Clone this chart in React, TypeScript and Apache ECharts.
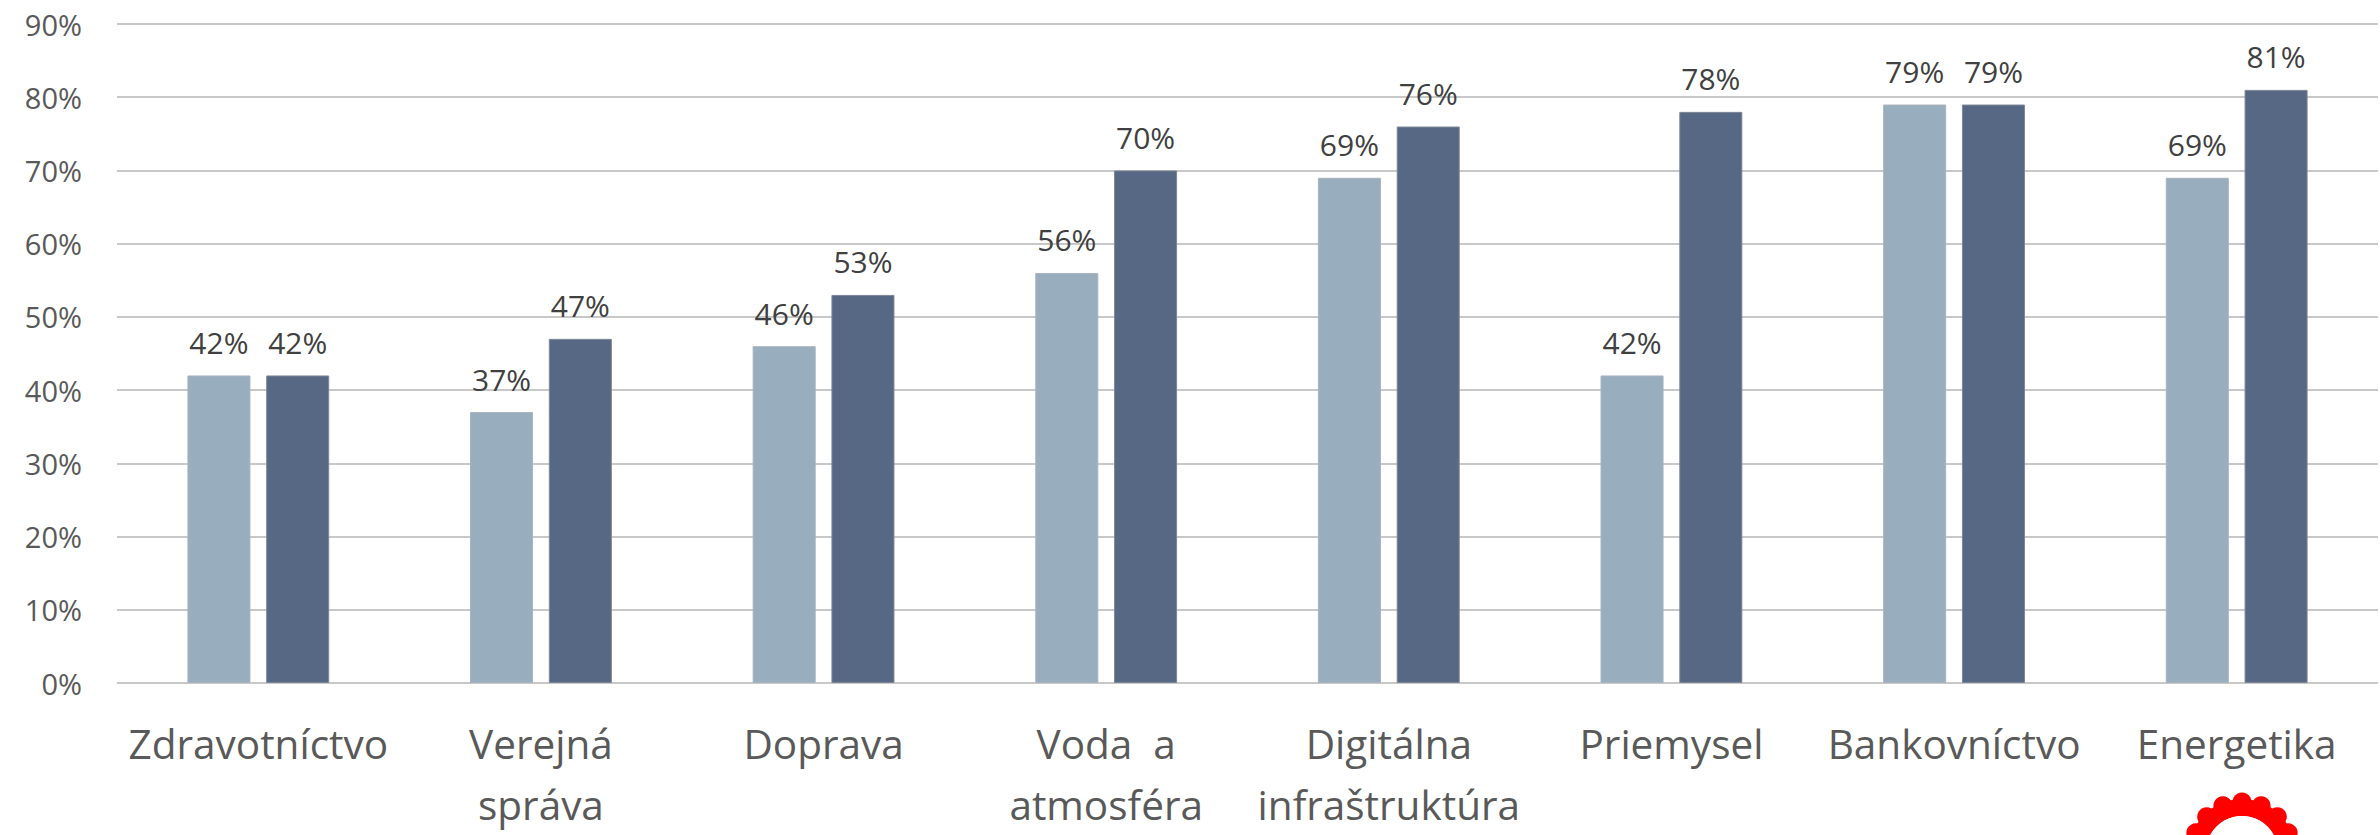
import React, { useEffect, useRef } from "react";
import * as echarts from "echarts";

const categories = [
  "Zdravotníctvo",
  "Verejná\nspráva",
  "Doprava",
  "Voda  a\natmosféra",
  "Digitálna\ninfraštruktúra",
  "Priemysel",
  "Bankovníctvo",
  "Energetika",
];
const seriesA = [42, 37, 46, 56, 69, 42, 79, 69];
const seriesB = [42, 47, 53, 70, 76, 78, 79, 81];
const yTicks = { min: 0, max: 90, interval: 10 };

const FONT = "'Open Sans', Lato, sans-serif";

function logoGraphic() {
  const cx = 2242;
  const cy = 852;
  const children: any[] = [];
  const n = 16;
  for (let i = 0; i < n; i++) {
    const a = (i / n) * Math.PI * 2;
    children.push({
      type: "circle",
      shape: { cx: cx + Math.cos(a) * 50, cy: cy + Math.sin(a) * 50, r: 9.5 },
      style: { fill: "#ff0000" },
    });
  }
  children.push({
    type: "ring",
    shape: { cx, cy, r: 53, r0: 36 },
    style: { fill: "#ff0000" },
  });
  children.push({
    type: "circle",
    shape: { cx, cy, r: 36 },
    style: { fill: "#ffffff" },
  });
  return [{ type: "group", children }];
}

export default function App() {
  const ref = useRef<HTMLDivElement>(null);
  useEffect(() => {
    document.body.style.margin = "0";
    const chart = echarts.init(ref.current!, null, { renderer: "svg" });
    const labelStyle = {
      show: true,
      position: "top" as const,
      distance: 18,
      formatter: "{c}%",
      fontSize: 30,
      color: "#404040",
      fontFamily: FONT,
    };
    chart.setOption({
      animation: false,
      backgroundColor: "#ffffff",
      grid: { left: 117, right: 2, top: 24, bottom: 149, containLabel: false },
      xAxis: {
        type: "category",
        data: categories,
        axisLine: { show: false },
        axisTick: { show: false },
        axisLabel: {
          interval: 0,
          fontSize: 40.5,
          lineHeight: 61,
          color: "#595959",
          fontFamily: FONT,
          margin: 30,
        },
      },
      yAxis: {
        type: "value",
        min: yTicks.min,
        max: yTicks.max,
        interval: yTicks.interval,
        axisLine: { show: false },
        axisTick: { show: false },
        splitLine: { lineStyle: { color: "#c8c8c8", width: 2 } },
        axisLabel: {
          formatter: "{value}%",
          fontSize: 29,
          color: "#595959",
          fontFamily: FONT,
          margin: 35,
        },
      },
      series: [
        {
          type: "bar",
          data: seriesA,
          barWidth: "22.3%",
          barGap: "25%",
          itemStyle: { color: "#98adbd", borderColor: "#a9b3bd", borderWidth: 1 },
          label: labelStyle,
        },
        {
          type: "bar",
          data: seriesB,
          barWidth: "22.3%",
          itemStyle: { color: "#566884", borderColor: "#7d8796", borderWidth: 1 },
          label: labelStyle,
        },
      ],
      graphic: logoGraphic(),
    });
    return () => chart.dispose();
  }, []);
  return <div ref={ref} style={{ width: 2380, height: 835 }} />;
}
